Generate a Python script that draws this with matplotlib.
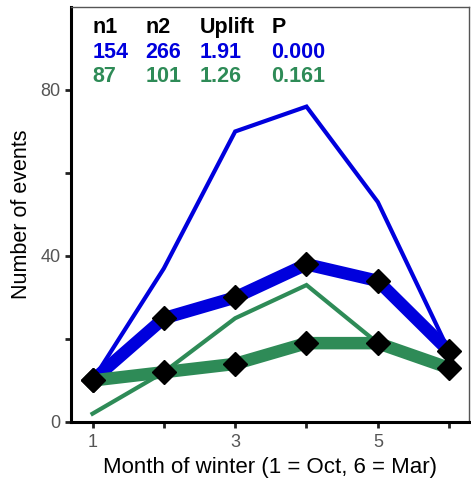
import matplotlib
matplotlib.use("Agg")
import matplotlib.pyplot as plt

plt.rcParams['font.family'] = ['Liberation Sans', 'DejaVu Sans']

months = [1, 2, 3, 4, 5, 6]
blue_thin = [10, 37, 70, 76, 53, 17]
blue_thick = [10, 25, 30, 38, 34, 17]
green_thin = [2, 12, 25, 33, 19, 13]
green_thick = [10, 12, 14, 19, 19, 13]

header = ['n1', 'n2', 'Uplift', 'P']
row_blue = ['154', '266', '1.91', '0.000']
row_green = ['87', '101', '1.26', '0.161']

BLUE = '#0000dd'
GREEN = '#2e8b57'

fig = plt.figure(figsize=(4.71, 4.82), dpi=100)
ax = fig.add_axes([0.151, 0.1245, 0.845, 0.861])

ax.plot(months, blue_thin, color=BLUE, lw=3, solid_joinstyle='miter')
ax.plot(months, green_thin, color=GREEN, lw=3, solid_joinstyle='miter')
ax.plot(months, blue_thick, color=BLUE, lw=9, marker='D', ms=12,
        mfc='black', mec='black', solid_joinstyle='miter')
ax.plot(months, green_thick, color=GREEN, lw=9, marker='D', ms=12,
        mfc='black', mec='black', solid_joinstyle='miter')

ax.set_xlim(0.7, 6.28)
ax.set_ylim(0, 100)
ax.set_xticks(months)
ax.set_xticklabels(['1', '', '3', '', '5', ''])
ax.set_yticks([0, 20, 40, 60, 80])
ax.set_yticklabels(['0', '', '40', '', '80'])
ax.tick_params(labelsize=13, labelcolor='#555555', length=4, width=2, color='#222222')
ax.tick_params(axis='x', pad=5)

for s in ['left', 'bottom']:
    ax.spines[s].set_linewidth(2.2)
    ax.spines[s].set_color('black')
for s in ['top', 'right']:
    ax.spines[s].set_linewidth(1)
    ax.spines[s].set_color('#555555')

ax.set_xlabel('Month of winter (1 = Oct, 6 = Mar)', fontsize=16, labelpad=4)
ax.set_ylabel('Number of events', fontsize=15.5, labelpad=6)

col_x = [1.0, 1.74, 2.5, 3.51]
for rows, col, yy in [(header, 'black', 95.0), (row_blue, BLUE, 89.0), (row_green, GREEN, 83.2)]:
    for xx, t in zip(col_x, rows):
        ax.text(xx, yy, t, color=col, fontsize=15.5, fontweight='bold', va='center', ha='left')

fig.savefig('out.png', dpi=100)
